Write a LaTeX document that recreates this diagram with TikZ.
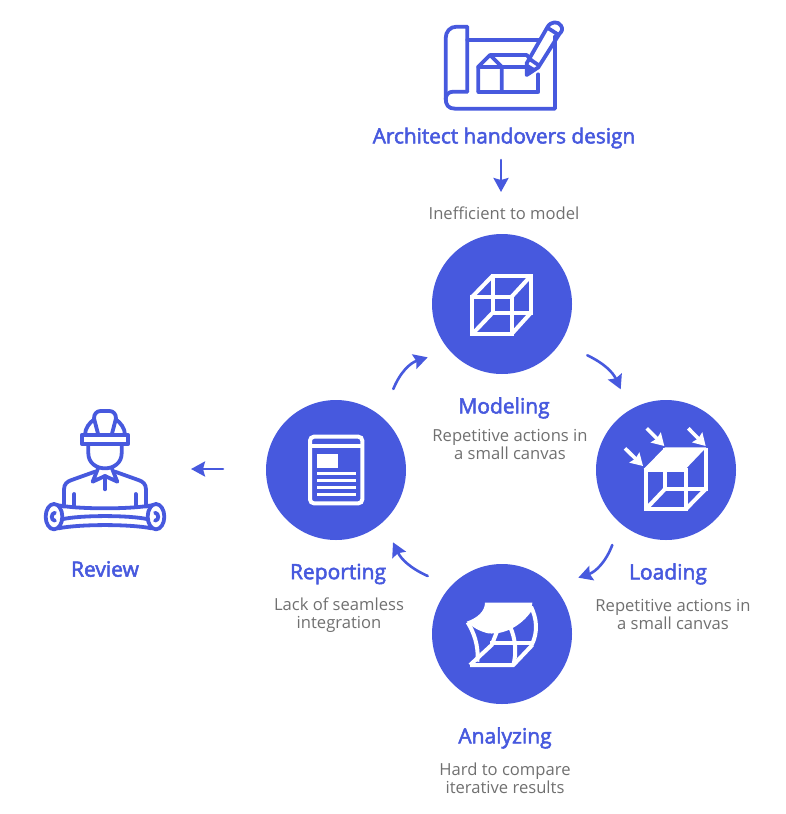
\documentclass[tikz,border=0pt]{standalone}
\usepackage{fontspec}
\setmainfont{Open Sans}
\newfontfamily\headfont{Open Sans}[FakeBold=2.5]
\usepackage{tikz}
\usetikzlibrary{arrows.meta}
\definecolor{brandblue}{HTML}{4759DE}
\definecolor{notegray}{HTML}{707070}
\tikzset{
  stage/.style={circle,fill=brandblue,minimum size=140pt,inner sep=0pt},
  title/.style={text=brandblue,font=\headfont\fontsize{21}{24}\selectfont,align=center,inner sep=0pt},
  note/.style={text=notegray,font=\fontsize{16.6}{18}\selectfont,align=center,inner sep=0pt},
  flow/.style={-{Stealth[length=14pt,width=15pt,inset=2pt]},brandblue,line width=2.6pt,line cap=round},
  bluelines/.style={brandblue,line width=3.8pt,line join=round,line cap=round,fill=none},
  whitelines/.style={white,line width=4pt,line join=miter,fill=none},
}

\begin{document}
\begin{tikzpicture}[x=1pt,y=-1pt]
  \useasboundingbox (0,0) rectangle (786,814);
  \node [stage] (modeling) at (502,304) {};
  \node [stage] (loading) at (666,470) {};
  \node [stage] (analyzing) at (502,634) {};
  \node [stage] (reporting) at (336,470) {};

  \node [title,font=\headfont\fontsize{20.8}{24}\selectfont] (architect) at (504,138) {Architect handovers design};
  \node [note] (inefficient) at (504,213) {Inefficient to model};
  \node [title] (modelname) at (504,408) {Modeling};
  \node [note] (modelnote) at (510,444) {Repetitive actions in\\a small canvas};
  \node [title] (loadname) at (668,574) {Loading};
  \node [note] (loadnote) at (673,614) {Repetitive actions in\\a small canvas};
  \node [title] (analyzename) at (505,738) {Analyzing};
  \node [note] (analyzenote) at (505,778) {Hard to compare\\iterative results};
  \node [title] (reportname) at (338,574) {Reporting};
  \node [note] (reportnote) at (339,615) {Lack of seamless\\integration};
  \node [title] (review) at (105,569) {Review};

  \coordinate (top1) at (501,160);
  \coordinate (top2) at (501,192);
  \coordinate (back1) at (223,469);
  \coordinate (back2) at (191,469);
  \coordinate (a1) at (393.3,389);
  \coordinate (a2) at (427.7,357.3);
  \coordinate (b1) at (587.3,355.3);
  \coordinate (b2) at (620.7,389.3);
  \coordinate (c1) at (612.3,545);
  \coordinate (c2) at (578.3,577.7);
  \coordinate (d1) at (427.7,576);
  \coordinate (d2) at (393,542.3);
  \path[flow]
    (top1) edge (top2)
    (back1) edge (back2)
    (a1) edge [bend left=25] (a2)
    (b1) edge [bend left=20] (b2)
    (c1) edge [bend left=25] (c2)
    (d1) edge [bend left=20] (d2);

  % blueprint
  \begin{scope}[shift={(430,10)},scale=1/3,bluelines]
    \draw (112,245) -- (112,50) -- (80,50) .. controls (60,50) and (47,65) .. (47,85) -- (47,265)
      .. controls (47,285) and (55,296) .. (75,296) -- (375,296) -- (375,78);
    \draw (112,245) -- (70,245) .. controls (55,245) and (47,255) .. (47,268);
    \draw (112,89) -- (327,89);
    \draw (145,245) -- (325,245) -- (325,193);
    \draw (145,245) -- (145,170) -- (180,135) -- (215,170) -- (215,245);
    \draw (145,170) -- (215,170) -- (284,170);
    \draw (180,135) -- (290,135) -- (303,150);
    \draw (290,195) -- (290,160) -- (352,52) .. controls (362,33) and (385,33) .. (393,47)
      .. controls (400,58) and (395,65) .. (388,72) -- (325,172) -- cycle;
    \draw (355,55) -- (382,72);
    \draw (303,150) -- (325,165);
    \fill[brandblue] (290,160) -- (318,177) -- (290,195) -- cycle;
  \end{scope}

  % worker
  \begin{scope}[shift={(30,400)},scale=1/3,bluelines]
    \draw (155,105) rectangle (295,132);
    \draw (165,105) .. controls (165,85) and (178,68) .. (193,58);
    \draw (285,105) .. controls (285,85) and (272,68) .. (257,58);
    \draw (205,105) -- (192,55) .. controls (192,42) and (200,33) .. (212,33) -- (238,33)
      .. controls (250,33) and (258,42) .. (258,55) -- (245,105);
    \draw (175,132) -- (175,160) .. controls (175,188) and (198,205) .. (225,205)
      .. controls (252,205) and (275,188) .. (275,160) -- (275,132);
    \draw (102,320) -- (102,268) .. controls (102,252) and (112,244) .. (125,240) -- (195,215);
    \draw (348,320) -- (348,268) .. controls (348,252) and (338,244) .. (325,240) -- (255,215);
    \draw (205,203) -- (188,245) -- (225,228) -- (262,245) -- (245,203);
    \draw (225,228) -- (225,268);
    \draw (133,282) -- (133,318);
    \draw (317,282) -- (317,318);
    \draw (85,316) .. controls (150,328) and (300,328) .. (365,316);
    \draw (95,358) .. controls (150,345) and (300,345) .. (355,358);
    \draw (85,385) .. controls (150,372) and (300,372) .. (365,385);
    \draw (72,350) ellipse [x radius=25,y radius=38];
    \draw (378,350) ellipse [x radius=25,y radius=38];
    \draw (75,362) .. controls (62,362) and (62,340) .. (75,338);
    \draw (375,362) .. controls (388,362) and (388,340) .. (375,338);
  \end{scope}

  % modeling cube
  \begin{scope}[shift={(455,260)},scale=1/3,whitelines]
    \draw (52,110) rectangle (170,222);
    \draw (113,47) rectangle (228,158);
    \draw (52,110) -- (113,47) (170,110) -- (228,47) (52,222) -- (113,158) (170,222) -- (228,158);
  \end{scope}

  % loading cube
  \begin{scope}[shift={(615,415)},scale=1/3,whitelines]
    \draw (92,165) rectangle (212,283);
    \draw (150,98) -- (150,222) -- (272,222) -- (272,98);
    \draw (92,283) -- (150,222) (212,283) -- (272,222);
    \fill[white] (86,162) -- (150,97) -- (274,97) -- (212,162) -- cycle;
    \foreach \sx/\sy/\ex/\ey in {95/40/148/93,220/40/272/93,30/100/84/153}
      \draw[-{Stealth[length=12pt,width=14pt,inset=1.5pt]},line width=3.6pt] (\sx,\sy) -- (\ex,\ey);
  \end{scope}

  % analyzing surface
  \begin{scope}[shift={(455,590)},scale=1/3,whitelines]
    \draw (38,97) .. controls (55,125) and (72,165) .. (67,215);
    \draw (45,225) -- (175,225) -- (232,165);
    \draw (45,225) -- (110,165) -- (127,122);
    \draw (105,160) -- (230,160);
    \draw (165,110) .. controls (182,145) and (185,190) .. (175,225);
    \draw (228,50) .. controls (245,85) and (250,125) .. (230,165);
    \fill[white] (90,38) -- (232,38) -- (228,65) .. controls (200,105) and (150,135) .. (100,130)
      .. controls (75,125) and (50,110) .. (35,95) .. controls (65,85) and (90,65) .. (90,38) -- cycle;
  \end{scope}

  % report sheet
  \begin{scope}[shift={(295,425)},scale=1/3,whitelines]
    \draw[rounded corners=4pt] (45,35) rectangle (202,235);
    \draw (45,63) -- (202,63);
    \fill[white] (66,88) rectangle (130,130);
    \foreach \bary in {140,161,182,203}
      \fill[white] (66,\bary) rectangle (184,\bary+11);
  \end{scope}
\end{tikzpicture}
\end{document}
